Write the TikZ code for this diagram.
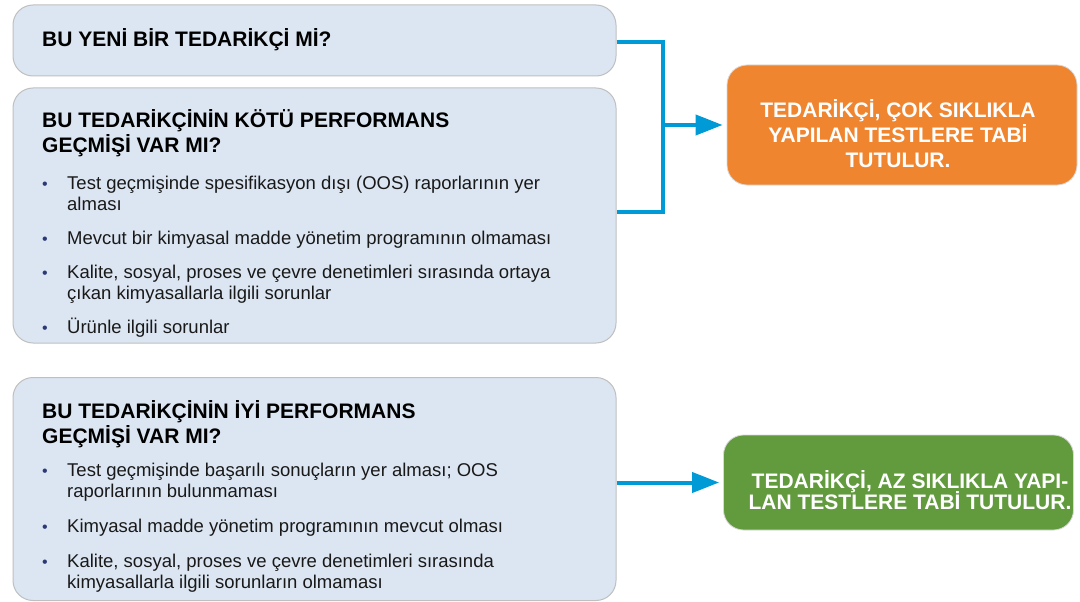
\documentclass[tikz,border=0pt]{standalone}
\usepackage{fontspec}
\setmainfont{Liberation Sans}
\usepackage{xcolor}
\usetikzlibrary{arrows.meta, positioning}

\definecolor{qfill}{HTML}{DCE6F2}
\definecolor{qline}{HTML}{BFBFBF}
\definecolor{hiorange}{HTML}{F08530}
\definecolor{logreen}{HTML}{629A3E}
\definecolor{linkblue}{HTML}{009BD6}
\definecolor{dotblue}{HTML}{2B3A75}
\newcommand{\tightlines}{\lineskiplimit=-20pt\relax}

\begin{document}
\begin{tikzpicture}[x=1pt, y=-1pt,
        qbox/.style={draw=qline, fill=qfill, line width=1pt, rounded corners=20pt, minimum width=603pt},
        resbox/.style={draw=black!15, line width=0.8pt, rounded corners=20pt, minimum width=350pt},
        title/.style={anchor=base west, align=left, inner sep=0pt, font=\fontsize{21}{25}\selectfont\bfseries},
        item/.style={anchor=base west, align=left, inner sep=0pt, text=black!90, font=\fontsize{18.5}{21}\selectfont\tightlines},
        dot/.style={anchor=base, inner sep=0pt, text=dotblue, font=\fontsize{16}{16}\selectfont},
        restext/.style={anchor=base, align=center, inner sep=0pt, text=white, font=\fontsize{21}{25}\selectfont\bfseries\tightlines},
        link/.style={draw=linkblue, line width=4pt},
        tip/.style={-{Triangle[length=27pt, width=20pt]}, shorten >=4pt},
    ]
    \useasboundingbox (0,0) rectangle (1080,602);
    % question boxes
    \node[qbox, minimum height=71pt] (q1) at (314.5,40.5) {};
    \node[qbox, minimum height=255pt] (q2) at (314.5,215.5) {};
    \node[qbox, minimum height=223pt] (q3) at (314.5,489) {};
    % result boxes
    \node[resbox, fill=hiorange, minimum height=120pt] (often) at (902,125) {};
    \node[resbox, fill=logreen, minimum height=95pt] (rare) at (898.5,482.5) {};

    % base of a two-line node is its last line
    \node[title] (t1) at (42,47) {BU YENİ BİR TEDARİKÇİ Mİ?};
    \node[title] (t2) at (42,152.5) {BU TEDARİKÇİNİN KÖTÜ PERFORMANS\\GEÇMİŞİ VAR MI?};
    \node[title] (t3) at (42,443.5) {BU TEDARİKÇİNİN İYİ PERFORMANS\\GEÇMİŞİ VAR MI?};

    \foreach \i/\y/\z/\txt in {
        1/189/210/{Test geçmişinde spesifikasyon dışı (OOS) raporlarının yer\\alması},
        2/244/244/{Mevcut bir kimyasal madde yönetim programının olmaması},
        3/278/299/{Kalite, sosyal, proses ve çevre denetimleri sırasında ortaya\\çıkan kimyasallarla ilgili sorunlar},
        4/333/333/{Ürünle ilgili sorunlar},
        5/476/497/{Test geçmişinde başarılı sonuçların yer alması; OOS\\raporlarının bulunmaması},
        6/532/532/{Kimyasal madde yönetim programının mevcut olması},
        7/567/588/{Kalite, sosyal, proses ve çevre denetimleri sırasında\\kimyasallarla ilgili sorunların olmaması}}
    {
        \node[dot] (d\i) at (45,\y) {•};
        \node[item] (b\i) at (67,\z) {\txt};
    }

    \node[restext] (ot) at (898,167.5) {TEDARİKÇİ, ÇOK SIKLIKLA\\YAPILAN TESTLERE TABİ\\TUTULUR.};
    \node[restext, font=\fontsize{21}{21}\selectfont\bfseries\tightlines] (rt) at (910,509) {TEDARİKÇİ, AZ SIKLIKLA YAPI-\\LAN TESTLERE TABİ TUTULUR.};

    % connectors
    \coordinate (jn) at (663,125);
    \draw[link] ([yshift=-1.5pt]q1.east) -| (jn) |- ([yshift=3.5pt]q2.east);
    \draw[link, tip] (jn) -- (often.west);
    \draw[link, tip] (q3.east |- rare.west) -- (rare.west);
\end{tikzpicture}
\end{document}
